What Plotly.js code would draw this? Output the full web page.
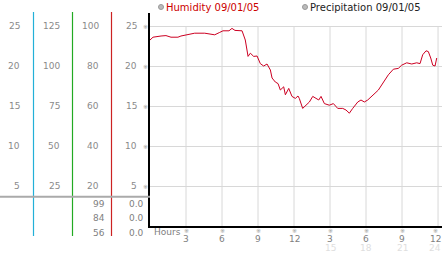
<!DOCTYPE html>
<html>
<head>
<meta charset="utf-8">
<script src="https://cdn.plot.ly/plotly-3.0.1.min.js"></script>
<style>html,body{margin:0;padding:0;background:#fff;}#chart{width:442px;height:253px;}</style>
</head>
<body>
<div id="chart"></div>
<script>
// ---- data ----
const hours = [0,0.25,0.92,1.33,1.75,2.33,2.58,3.0,3.72,4.56,5.39,5.81,6.08,6.58,6.83,7.08,7.67,7.94,8.17,8.36,8.64,8.92,9.19,9.47,9.75,10.03,10.17,10.44,10.67,10.86,11.14,11.28,11.56,11.83,12.11,12.33,12.44,12.72,13.0,13.28,13.56,13.83,14.06,14.25,14.53,14.94,15.28,15.64,16.06,16.33,16.61,16.89,17.31,17.58,17.86,18.14,18.5,18.75,19.03,19.44,19.86,20.28,20.69,20.97,21.39,21.81,22.22,22.5,22.72,23.0,23.19,23.39,23.56,23.75,23.89];
const humidity = [23.25,23.6,23.75,23.8,23.6,23.6,23.75,23.9,24.1,24.1,23.9,24.2,24.4,24.4,24.7,24.45,24.4,23.25,21.2,21.6,21.2,21.25,20.3,20.0,20.25,19.5,18.5,18.0,17.8,17.0,17.4,16.4,17.2,16.2,15.95,16.25,15.95,14.7,15.1,15.5,16.2,15.95,15.75,16.2,15.3,15.1,15.3,14.7,14.7,14.5,14.1,14.7,15.5,15.75,15.5,15.75,16.2,16.6,17.0,18.0,18.9,19.6,19.7,20.1,20.4,20.25,20.4,20.3,21.4,21.9,21.8,21.0,20.1,20.0,21.0];

const xTickVals = [3,6,9,12,15,18,21,24];
const xTickText = ["3","6","9","12","3","6","9","12"];
const xTickText2 = ["","","","","15","18","21","24"];
const yTickVals = [5,10,15,20,25];
const col1 = ["5","10","15","20","25"];
const col2 = ["25","50","75","100","125"];
const col3 = ["20","40","60","80","100"];
const col4 = ["5","10","15","20","25"];
const col3Below = ["99","84","56"];
const col4Below = ["0.0","0.0","0.0"];
const legendLabels = ["Humidity 09/01/05","Precipitation 09/01/05"];

// ---- layout helpers (pixel -> paper) ----
const L = 150, T = 13, W = 292, H = 213;
const px = x => (x - L) / W;
const py = y => (T + H - y) / H;

const font = "DejaVu Sans, sans-serif";
const ann = [];
const shapes = [];

// left panel columns of numbers
const cols = [[col1, 21.5], [col2, 61.5], [col3, 101], [col4, 138.5]];
cols.forEach(([arr, right]) => {
  arr.forEach((t, i) => ann.push({xref:'paper', yref:'y', x:px(right), y:yTickVals[i], text:t,
    showarrow:false, xanchor:'right', yanchor:'middle', font:{family:font, size:9, color:'#8a8a8a'}}));
});
const belowY = [204.2, 218.3, 232.7];
col3Below.forEach((t, i) => ann.push({xref:'paper', yref:'paper', x:px(106.5), y:py(belowY[i]), text:t,
  showarrow:false, xanchor:'right', yanchor:'middle', font:{family:font, size:9, color:'#808080'}}));
col4Below.forEach((t, i) => ann.push({xref:'paper', yref:'paper', x:px(145.5), y:py(belowY[i]), text:t,
  showarrow:false, xanchor:'right', yanchor:'middle', font:{family:font, size:9, color:'#808080'}}));

// y marks
yTickVals.forEach(v => ann.push({xref:'paper', yref:'y', x:px(145.5), y:v, text:'※', showarrow:false,
  xanchor:'center', yanchor:'middle', borderpad:0, font:{family:font, size:6, color:'#999999'}}));
// x tick labels, marks and second row
xTickVals.forEach((v, i) => {
  const shift = (i === xTickVals.length - 1) ? -3 : 0;
  ann.push({xref:'x', yref:'paper', x:v, y:py(230), text:'※', showarrow:false, xshift:shift,
    xanchor:'center', yanchor:'middle', borderpad:0, font:{family:font, size:6, color:'#999999'}});
  ann.push({xref:'x', yref:'paper', x:v, y:py(238.5), text:xTickText[i], showarrow:false, xshift:shift,
    xanchor:'center', yanchor:'middle', borderpad:0, font:{family:font, size:9, color:'#808080'}});
  if (xTickText2[i]) ann.push({xref:'x', yref:'paper', x:v, y:py(247.5), text:xTickText2[i], showarrow:false, xshift:shift,
    xanchor:'center', yanchor:'middle', borderpad:0, font:{family:font, size:9, color:'#dedede'}});
});
ann.push({xref:'paper', yref:'paper', x:px(152), y:py(231.5), text:'Hours', showarrow:false,
  xanchor:'left', yanchor:'middle', font:{family:font, size:9, color:'#808080'}});

// legend
ann.push({xref:'paper', yref:'paper', x:px(164), y:py(7), text:legendLabels[0], showarrow:false,
  xanchor:'left', yanchor:'middle', font:{family:font, size:10, color:'#cc0000'}});
ann.push({xref:'paper', yref:'paper', x:px(308), y:py(7), text:legendLabels[1], showarrow:false,
  xanchor:'left', yanchor:'middle', font:{family:font, size:10, color:'#222222'}});
[161, 305].forEach(cx => shapes.push({type:'circle', xref:'paper', yref:'paper',
  x0:px(cx-2.5), x1:px(cx+2.5), y0:py(9.5), y1:py(4.5), fillcolor:'#bbbbbb', line:{color:'#999999', width:1}}));

// left panel lines
[[33.5,'#22b0d8'],[72.5,'#22aa22'],[111.5,'#cc2222']].forEach(([x,c]) => shapes.push({type:'line', xref:'paper', yref:'paper',
  x0:px(x), x1:px(x), y0:py(12), y1:py(236), line:{color:c, width:1.2}}));
shapes.push({type:'line', xref:'paper', yref:'paper', x0:px(0), x1:px(150), y0:py(196.7), y1:py(196.7), line:{color:'#aaaaaa', width:2}});

// vertical gridlines
xTickVals.forEach(v => shapes.push({type:'line', xref:'x', yref:'y', x0:v, x1:v, y0:0, y1:25, layer:'below',
  line:{color:'#d8d8d8', width:1}}));

const trace = {x:hours, y:humidity, type:'scatter', mode:'lines', line:{color:'#cc0022', width:1}, hoverinfo:'skip'};

const layout = {
  width:442, height:253,
  margin:{l:L, r:0, t:T, b:253-T-H},
  paper_bgcolor:'#ffffff', plot_bgcolor:'#ffffff',
  showlegend:false,
  xaxis:{range:[0,24.33], tickmode:'array', tickvals:xTickVals, showticklabels:false, showgrid:false, zeroline:false,
    showline:true, linecolor:'#000000', linewidth:2, ticks:'', fixedrange:true},
  yaxis:{range:[0,26.625], tickmode:'array', tickvals:yTickVals, showticklabels:false, showgrid:true, gridcolor:'#d8d8d8', gridwidth:1,
    zeroline:false, showline:true, linecolor:'#000000', linewidth:2, ticks:'', fixedrange:true},
  annotations:ann, shapes:shapes
};
Plotly.newPlot('chart', [trace], layout, {displayModeBar:false, staticPlot:true});
</script>
</body>
</html>
